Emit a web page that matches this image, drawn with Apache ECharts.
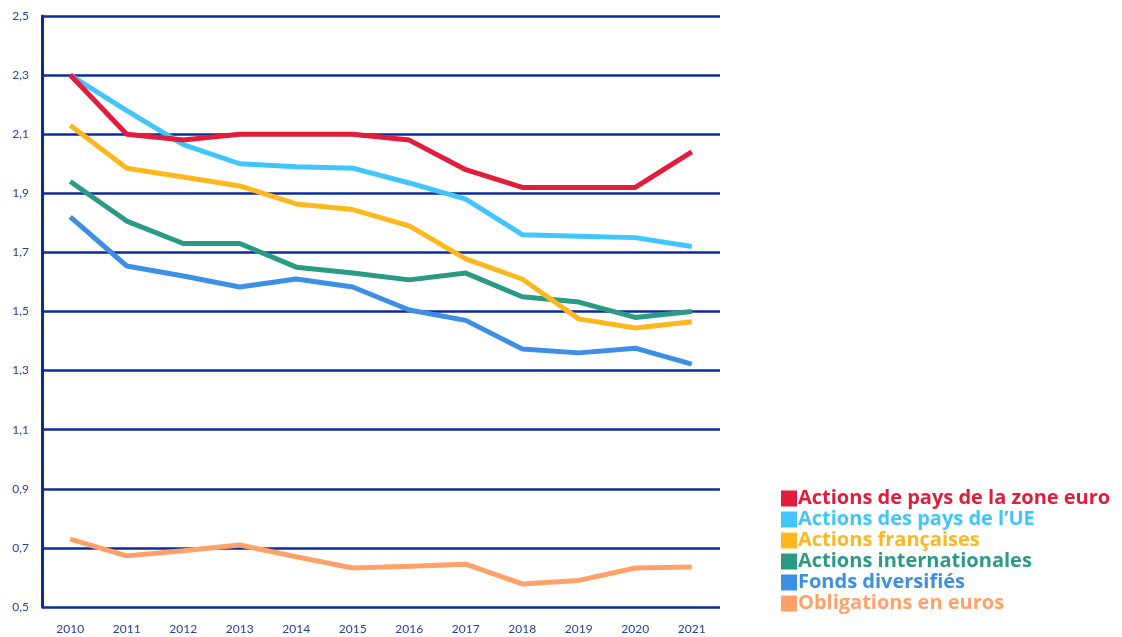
<!DOCTYPE html>
<html>
<head>
<meta charset="utf-8">
<script src="https://cdn.jsdelivr.net/npm/echarts@6/dist/echarts.min.js"></script>
<style>
  html, body { margin: 0; padding: 0; background: #fff; }
  #chartWrap { width: 1122px; height: 637px; }
</style>
</head>
<body>
<div id="chartWrap"></div>
<script>
// data
const years = ['2010', '2011', '2012', '2013', '2014', '2015', '2016', '2017', '2018', '2019', '2020', '2021']
const zoneEuro = [2.30, 2.10, 2.08, 2.10, 2.10, 2.10, 2.08, 1.98, 1.92, 1.92, 1.92, 2.04]
const paysUE = [2.30, 2.18, 2.065, 2.00, 1.99, 1.985, 1.935, 1.88, 1.76, 1.755, 1.75, 1.72]
const francaises = [2.13, 1.985, 1.955, 1.925, 1.864, 1.845, 1.79, 1.678, 1.61, 1.475, 1.444, 1.465]
const internationales = [1.94, 1.806, 1.73, 1.73, 1.65, 1.63, 1.607, 1.63, 1.55, 1.532, 1.48, 1.50]
const diversifies = [1.82, 1.654, 1.62, 1.583, 1.61, 1.583, 1.505, 1.47, 1.373, 1.36, 1.376, 1.322]
const obligations = [0.73, 0.673, 0.69, 0.71, 0.67, 0.632, 0.638, 0.645, 0.578, 0.59, 0.632, 0.635]

const seriesNames = [
  'Actions de pays de la zone euro',
  'Actions des pays de l\u2019UE',
  'Actions fran\u00e7aises',
  'Actions internationales',
  'Fonds diversifi\u00e9s',
  'Obligations en euros'
]
const seriesData = [zoneEuro, paysUE, francaises, internationales, diversifies, obligations]
const colors = ['#e21c3b', '#40c6fb', '#ffb71e', '#299a84', '#3d8fe6', '#ffa169']

const navy = '#0b2b9c'
const labelColor = '#2342a6'

const chart = echarts.init(document.getElementById('chartWrap'))

const option = {
  animation: false,
  grid: { left: 42, right: 402, top: 16, bottom: 30 },
  legend: {
    orient: 'vertical',
    left: 776,
    top: 483,
    icon: 'rect',
    itemWidth: 16,
    itemHeight: 16,
    itemGap: 0,
    data: seriesNames.map((n, i) => ({
      name: n,
      textStyle: { color: colors[i] }
    })),
    textStyle: {
      fontFamily: 'Open Sans',
      fontWeight: 'bold',
      fontSize: 20,
      lineHeight: 21,
      padding: [0, 0, 0, -4]
    }
  },
  xAxis: {
    type: 'category',
    data: years,
    boundaryGap: true,
    axisLine: { show: false },
    axisTick: { show: false },
    axisLabel: {
      color: labelColor,
      fontFamily: 'Lato',
      fontSize: 12,
      margin: 16
    }
  },
  yAxis: {
    type: 'value',
    min: 0.5,
    max: 2.5,
    interval: 0.2,
    axisLine: { show: true, lineStyle: { color: navy, width: 3 } },
    axisTick: { show: false },
    splitLine: { lineStyle: { color: navy, width: 2.5 } },
    axisLabel: {
      color: labelColor,
      fontFamily: 'Lato',
      fontSize: 12,
      margin: 13,
      formatter: v => v.toFixed(1).replace('.', ',')
    }
  },
  series: seriesNames.map((n, i) => ({
    name: n,
    type: 'line',
    data: seriesData[i],
    symbol: 'none',
    color: colors[i],
    lineStyle: { width: 5, color: colors[i] },
    z: 10 - i
  }))
}

chart.setOption(option)
</script>
</body>
</html>
